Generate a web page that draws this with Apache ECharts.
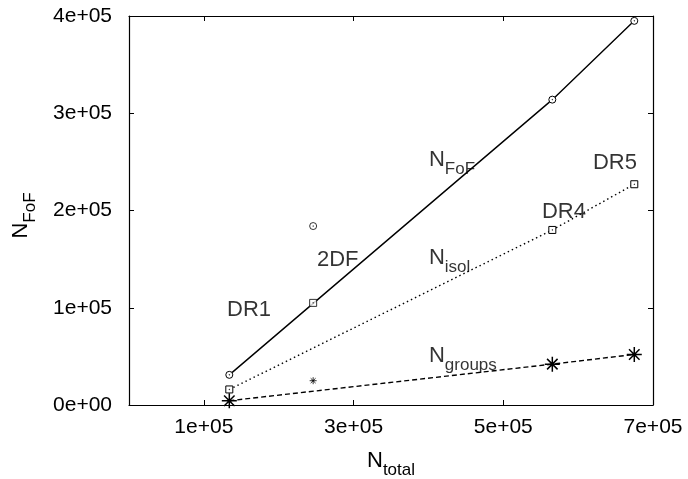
<!DOCTYPE html>
<html>
<head>
<meta charset="utf-8">
<script src="https://cdn.jsdelivr.net/npm/echarts@6/dist/echarts.min.js"></script>
<style>
	html, body { margin: 0; padding: 0; background: #fff; }
	#chart { width: 688px; height: 479px; }
</style>
</head>
<body>
<div id="chart"></div>
<script>
// surveys, in order: DR1, 2DF, DR4, DR5
const surveys = ["DR1", "2DF", "DR4", "DR5"];
const nTotal = [134000, 246000, 565500, 675000];
const nFoF = [31000, 184000, 314000, 395000];
const nIsol = [16000, 105000, 180000, 227000];
const nGroups = [4400, 25000, 42000, 52000];

const xTicks = [100000, 300000, 500000, 700000];
const yTicks = [0, 100000, 200000, 300000, 400000];

// text annotations (left edge, baseline) in data units
const noteText = ["{n|DR1}", "{n|2DF}", "{n|DR4}", "{n|DR5}", "{n|N}{s|FoF}", "{n|N}{s|isol}", "{n|N}{s|groups}"];
const noteX = [131000, 251000, 551700, 619800, 400700, 400700, 400700];
const noteY = [90500, 141900, 191300, 241600, 244700, 144000, 43200];

const FONT = "Liberation Sans";
const CIRCLE = "path://M5,0A5,5,0,1,1,4.99,0ZM5,4.6A0.4,0.4,0,1,1,4.99,4.6Z";
const SQUARE = "path://M0,0H10V10H0ZM5,4.6A0.4,0.4,0,1,1,4.99,4.6Z";
const STAR = "path://M0,5H10M5,0V10M1.5,1.5L8.5,8.5M8.5,1.5L1.5,8.5";

function sci(v) {
	if (v === 0) return "0e+00";
	let e = Math.floor(Math.log10(Math.abs(v)));
	let m = Math.round(v / Math.pow(10, e));
	return m + "e+" + String(e).padStart(2, "0");
}

// lines join the SDSS releases only; 2DF stands apart
function surveyLine(values) {
	return surveys.map((s, i) => [nTotal[i], values[i]]).filter((p, i) => surveys[i] !== "2DF");
}
function surveyPoint(values) {
	let i = surveys.indexOf("2DF");
	return [[nTotal[i], values[i]]];
}

const richText = {
	n: { fontFamily: FONT, fontSize: 22, lineHeight: 22, verticalAlign: "top", color: "#000" },
	s: { fontFamily: FONT, fontSize: 17, lineHeight: 17, verticalAlign: "top", padding: [12, 0, 0, 0], color: "#000" },
};

const axisLine = { show: true, onZero: false, lineStyle: { color: "#000", width: 1.2 } };
const tickStyle = { inside: true, length: 5, lineStyle: { color: "#000", width: 1 } };

let chart = echarts.init(document.getElementById("chart"));
chart.setOption({
	animation: false,
	backgroundColor: "#fff",
	grid: { left: 129, right: 35, top: 16, bottom: 74, containLabel: false, outerBoundsMode: "none" },
	xAxis: [
		{
			type: "value",
			min: 0,
			max: 700000,
			position: "bottom",
			name: "{n|N}{s|total}",
			nameLocation: "middle",
			nameGap: 45,
			nameTextStyle: { rich: richText },
			axisLine: axisLine,
			axisTick: Object.assign({ customValues: xTicks }, tickStyle),
			axisLabel: {
				customValues: xTicks,
				formatter: sci,
				fontFamily: FONT,
				fontSize: 21,
				color: "#000",
				margin: 12,
			},
			splitLine: { show: false },
		},
		{
			type: "value",
			min: 0,
			max: 700000,
			position: "top",
			axisLine: axisLine,
			axisTick: Object.assign({ customValues: xTicks }, tickStyle),
			axisLabel: { show: false },
			splitLine: { show: false },
		},
	],
	yAxis: [
		{
			type: "value",
			min: 0,
			max: 400000,
			interval: 100000,
			position: "left",
			name: "{n|N}{s|FoF}",
			nameLocation: "middle",
			nameGap: 97,
			nameRotate: 90,
			nameTextStyle: { rich: richText, padding: [0, 10, 0, 0] },
			axisLine: axisLine,
			axisTick: tickStyle,
			axisLabel: {
				formatter: sci,
				fontFamily: FONT,
				fontSize: 21,
				color: "#000",
				margin: 17,
			},
			splitLine: { show: false },
		},
		{
			type: "value",
			min: 0,
			max: 400000,
			interval: 100000,
			position: "right",
			axisLine: axisLine,
			axisTick: tickStyle,
			axisLabel: { show: false },
			splitLine: { show: false },
		},
	],
	series: [
		{
			type: "line",
			data: surveyLine(nFoF),
			symbol: CIRCLE,
			symbolSize: 7,
			itemStyle: { color: "#fff", borderColor: "#000", borderWidth: 1 },
			lineStyle: { color: "#000", width: 1.4, type: "solid" },
			z: 3,
		},
		{
			type: "line",
			data: surveyLine(nIsol),
			symbol: SQUARE,
			symbolSize: 7,
			itemStyle: { color: "#fff", borderColor: "#000", borderWidth: 1 },
			lineStyle: { color: "#000", width: 1.4, type: [1.5, 3] },
			z: 3,
		},
		{
			type: "line",
			data: surveyLine(nGroups),
			symbol: STAR,
			symbolSize: 15,
			itemStyle: { color: "#000", borderColor: "#000", borderWidth: 1.5 },
			lineStyle: { color: "#000", width: 1.4, type: [5, 3] },
			z: 3,
		},
		{
			type: "scatter",
			data: surveyPoint(nFoF),
			symbol: CIRCLE,
			symbolSize: 7,
			itemStyle: { color: "#fff", borderColor: "#000", borderWidth: 1 },
			z: 4,
		},
		{
			type: "scatter",
			data: surveyPoint(nIsol),
			symbol: SQUARE,
			symbolSize: 7,
			itemStyle: { color: "#fff", borderColor: "#000", borderWidth: 1 },
			z: 4,
		},
		{
			type: "scatter",
			data: surveyPoint(nGroups),
			symbol: STAR,
			symbolSize: 7,
			itemStyle: { color: "#000", borderColor: "#000", borderWidth: 1 },
			z: 4,
		},
		{
			type: "scatter",
			data: noteText.map((t, i) => ({ value: [noteX[i], noteY[i]], text: t })),
			symbolSize: 0,
			silent: true,
			label: {
				show: true,
				position: [0, 0],
				offset: [0, -18.5],
				align: "left",
				verticalAlign: "top",
				formatter: (p) => p.data.text,
				rich: richText,
			},
			z: 5,
		},
	],
});
</script>
</body>
</html>
